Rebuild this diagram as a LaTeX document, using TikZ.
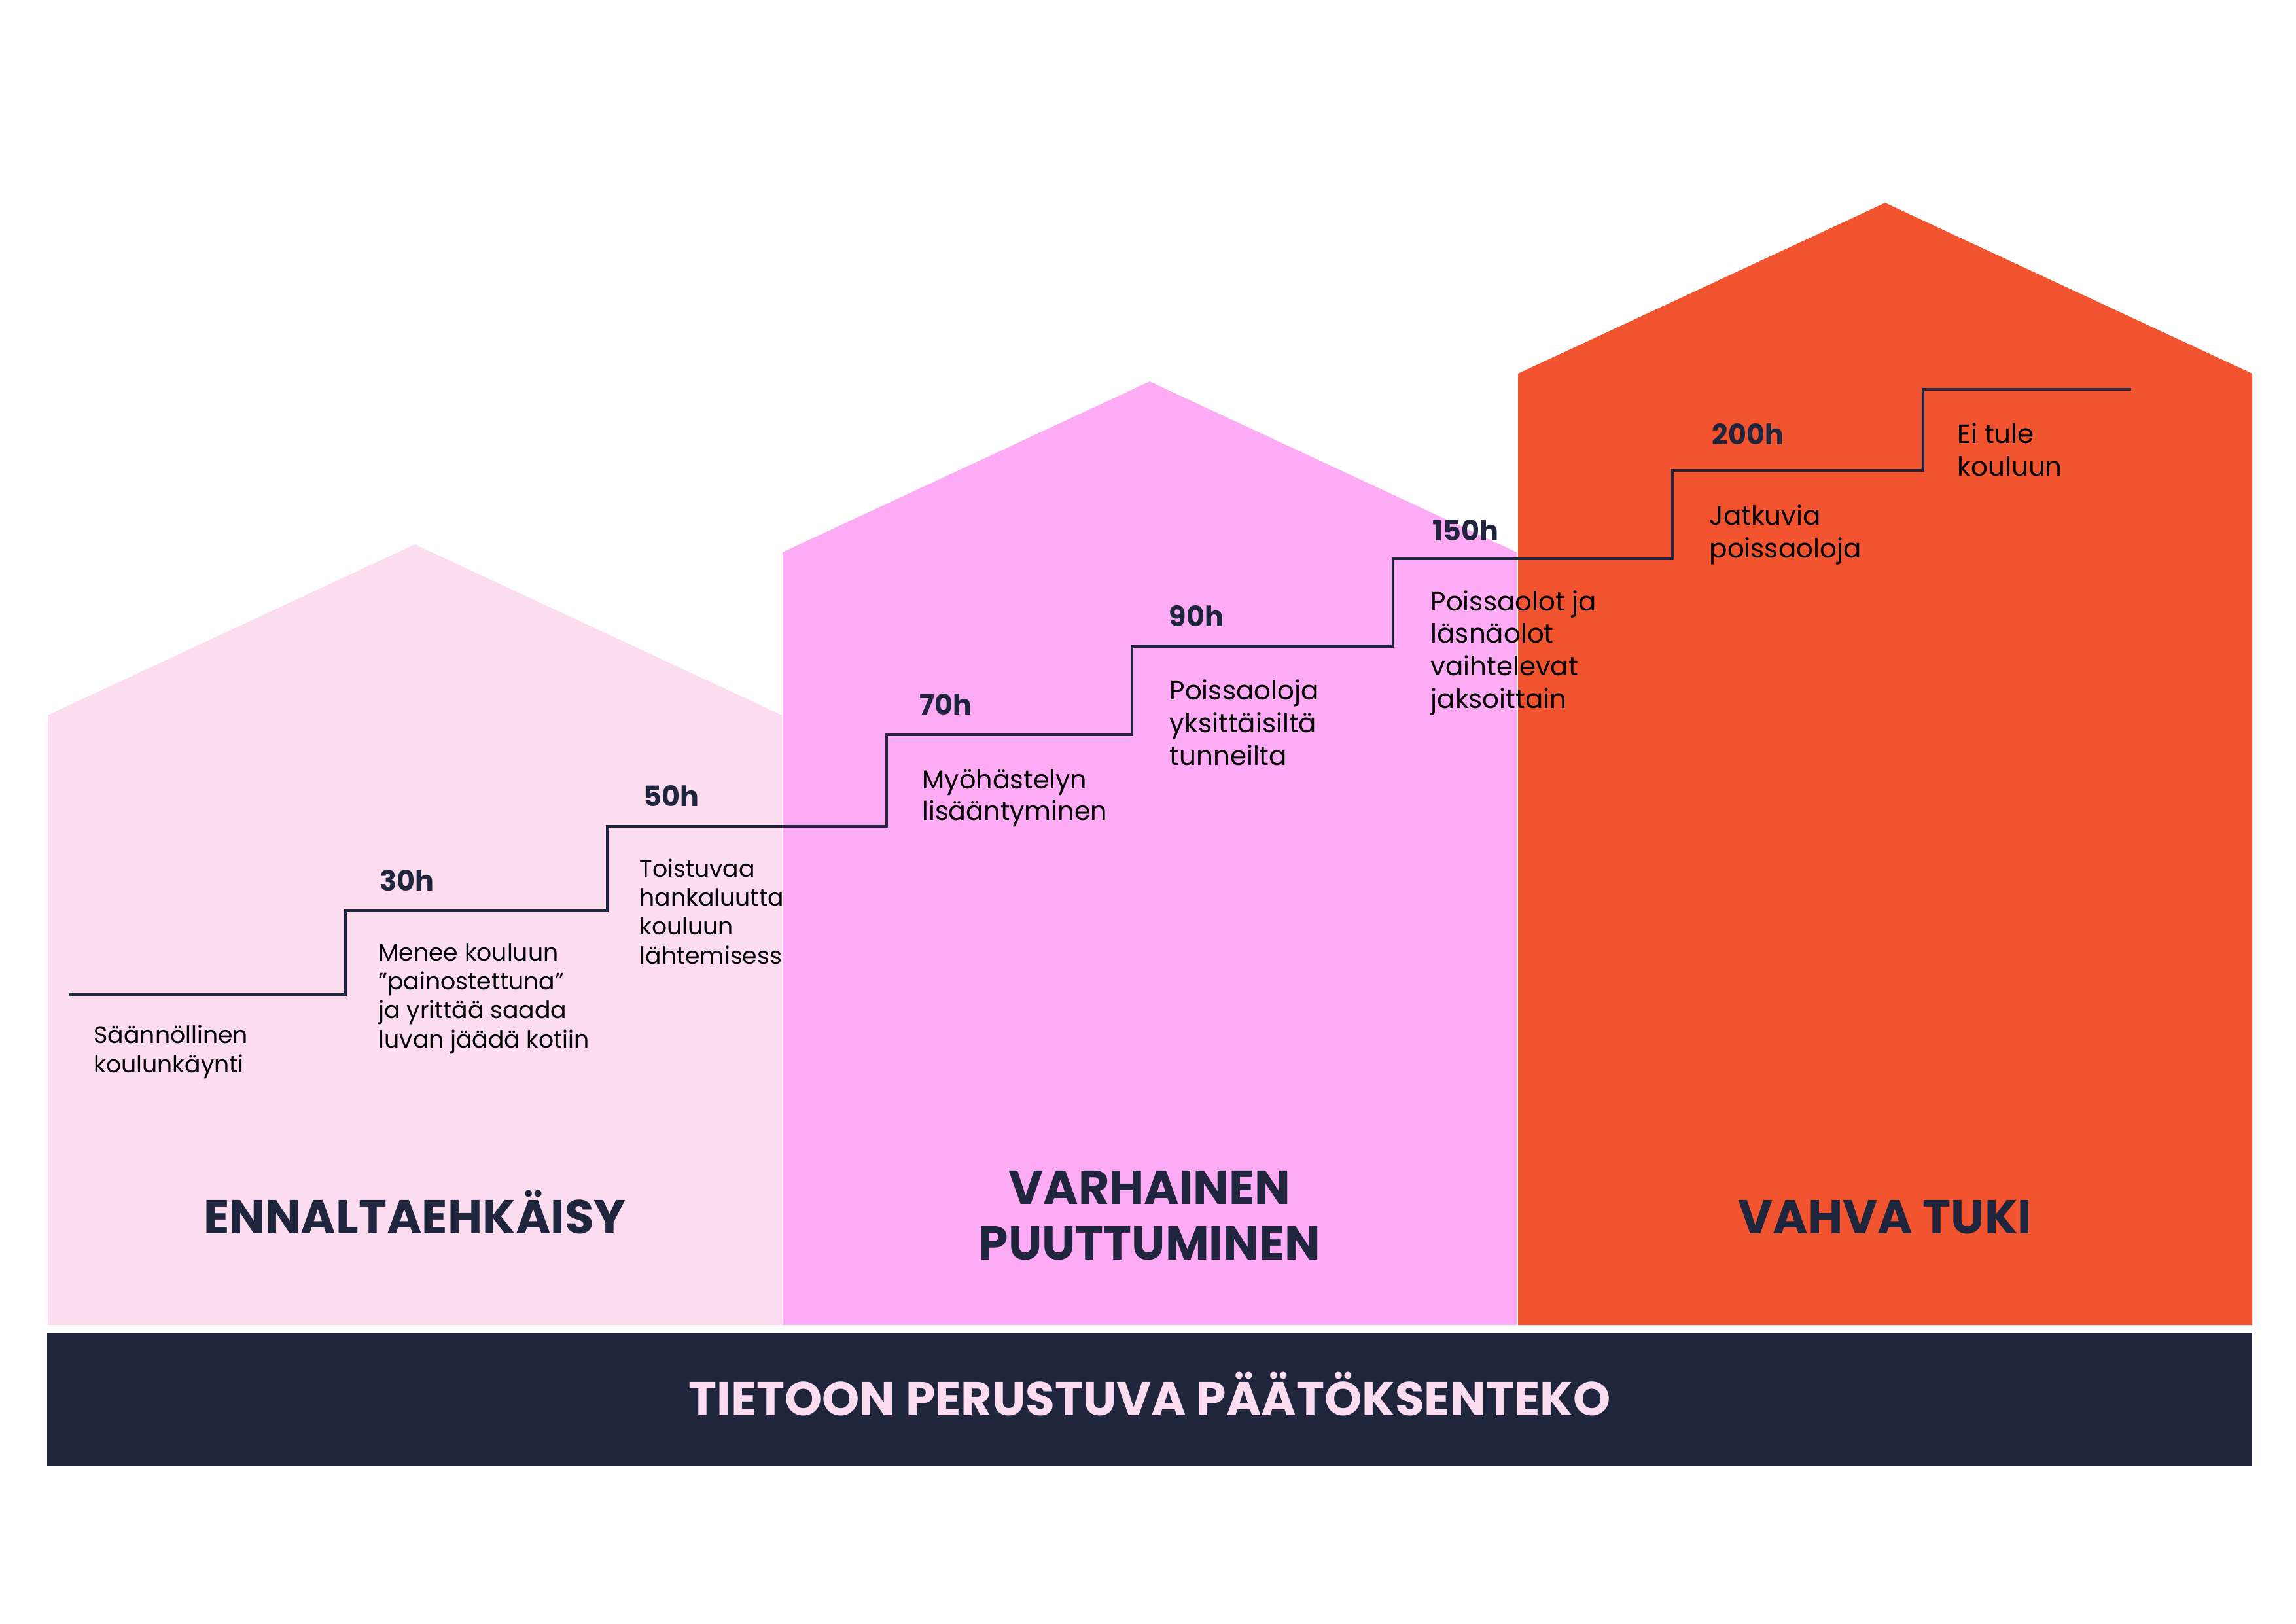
\documentclass[tikz,border=0pt]{standalone}
\usepackage{fontspec}
\setmainfont{Poppins}
\usepackage{tikz}
\usetikzlibrary{calc}
\definecolor{lpink}{RGB}{252,221,240}
\definecolor{mpink}{RGB}{253,171,245}
\definecolor{dorange}{RGB}{241,84,46}
\definecolor{dnavy}{RGB}{30,37,61}
\newcommand{\tikzhouse}[3]{\fill[#3] (#1, -20.25) -- (#1, #2) -- (#1+5.61, #2+2.61)
    -- (#1+11.22, #2) -- (#1+11.22, -20.25) -- cycle;
}
% base of a text block is the baseline of its last line
\tikzset{
    hourlabel/.style={anchor=base west, text=dnavy, font=\fontsize{12.2}{15}\selectfont\bfseries, inner sep=0pt},
    desctext/.style={anchor=base west, align=left, text=black, font=\fontsize{10.3}{12.6}\selectfont, inner sep=0pt},
    desclarge/.style={desctext, font=\fontsize{11.5}{14.1}\selectfont},
    titletext/.style={anchor=base, align=center, text=dnavy, font=\fontsize{20.7}{24.1}\selectfont\bfseries, inner sep=0pt},
}

\begin{document}
\begin{tikzpicture}
        \useasboundingbox (0, 0) rectangle (35.09, -24.81);

        % Draw stair points
        \coordinate (s0) at (1.05, -15.20);
        \coordinate (r1) at (5.28, -13.92);
        \coordinate (r2) at (9.28, -12.63);
        \coordinate (r3) at (13.55, -11.23);
        \coordinate (r4) at (17.30, -9.88);
        \coordinate (r5) at (21.29, -8.54);
        \coordinate (r6) at (25.56, -7.19);
        \coordinate (r7) at (29.39, -5.95);
        \coordinate (e) at (32.57, -5.95);

        % Draw first house and its texts
        \tikzhouse{0.73}{-10.93}{lpink}
        \node[desctext] (d0) at ($(s0)+(0.38,-1.19)$) {Säännöllinen\\koulunkäynti};
        \node[desctext] (d30) at ($(r1)+(0.50,-2.09)$) {Menee kouluun\\”painostettuna”\\ja yrittää saada\\luvan jäädä kotiin};
        \node[desctext] (d50) at ($(r2)+(0.49,-2.10)$) {Toistuvaa\\hankaluutta\\kouluun\\lähtemisessä};

        % Draw other houses
        \tikzhouse{11.96}{-8.44}{mpink}
        \tikzhouse{23.20}{-5.71}{dorange}
        \fill[dnavy] (0.72, -20.37) rectangle (34.42, -22.40);

        % Draw stairs
        \draw[dnavy, line width=1.4pt] (s0) -| (r1) -| (r2) -| (r3) -| (r4) -| (r5) -| (r6) -| (r7) -- (e);

        \node[hourlabel] (h30) at ($(r1)+(0.52,0.31)$) {30h};
        \node[hourlabel] (h50) at ($(r2)+(0.55,0.31)$) {50h};
        \node[hourlabel] (h70) at ($(r3)+(0.50,0.31)$) {70h};
        \node[hourlabel] (h90) at ($(r4)+(0.56,0.31)$) {90h};
        \node[hourlabel] (h150) at ($(r5)+(0.60,0.28)$) {150h};
        \node[hourlabel] (h200) at ($(r6)+(0.60,0.40)$) {200h};

        \node[desclarge, font=\fontsize{11.3}{13.4}\selectfont] (d70) at ($(r3)+(0.54,-1.30)$) {Myöhästelyn\\lisääntyminen};
        \node[desclarge] (d90) at ($(r4)+(0.57,-1.81)$) {Poissaoloja\\yksittäisiltä\\tunneilta};
        \node[desclarge] (d150) at ($(r5)+(0.57,-2.28)$) {Poissaolot ja\\läsnäolot\\vaihtelevat\\jaksoittain};
        \node[desclarge] (d200) at ($(r6)+(0.56,-1.33)$) {Jatkuvia\\poissaoloja};
        \node[desclarge] (dend) at ($(r7)+(0.52,-1.32)$) {Ei tule\\kouluun};

        % Draw titles
        \node[titletext] (t1) at (6.34, -18.85) {ENNALTAEHKÄISY};
        \node[titletext] (t2) at (17.57, -19.25) {VARHAINEN\\PUUTTUMINEN};
        \node[titletext] (t3) at (28.81, -18.85) {VAHVA TUKI};
        \node[titletext, text=lpink] (tbar) at (17.57, -21.63) {TIETOON PERUSTUVA PÄÄTÖKSENTEKO};
    \end{tikzpicture}
\end{document}
